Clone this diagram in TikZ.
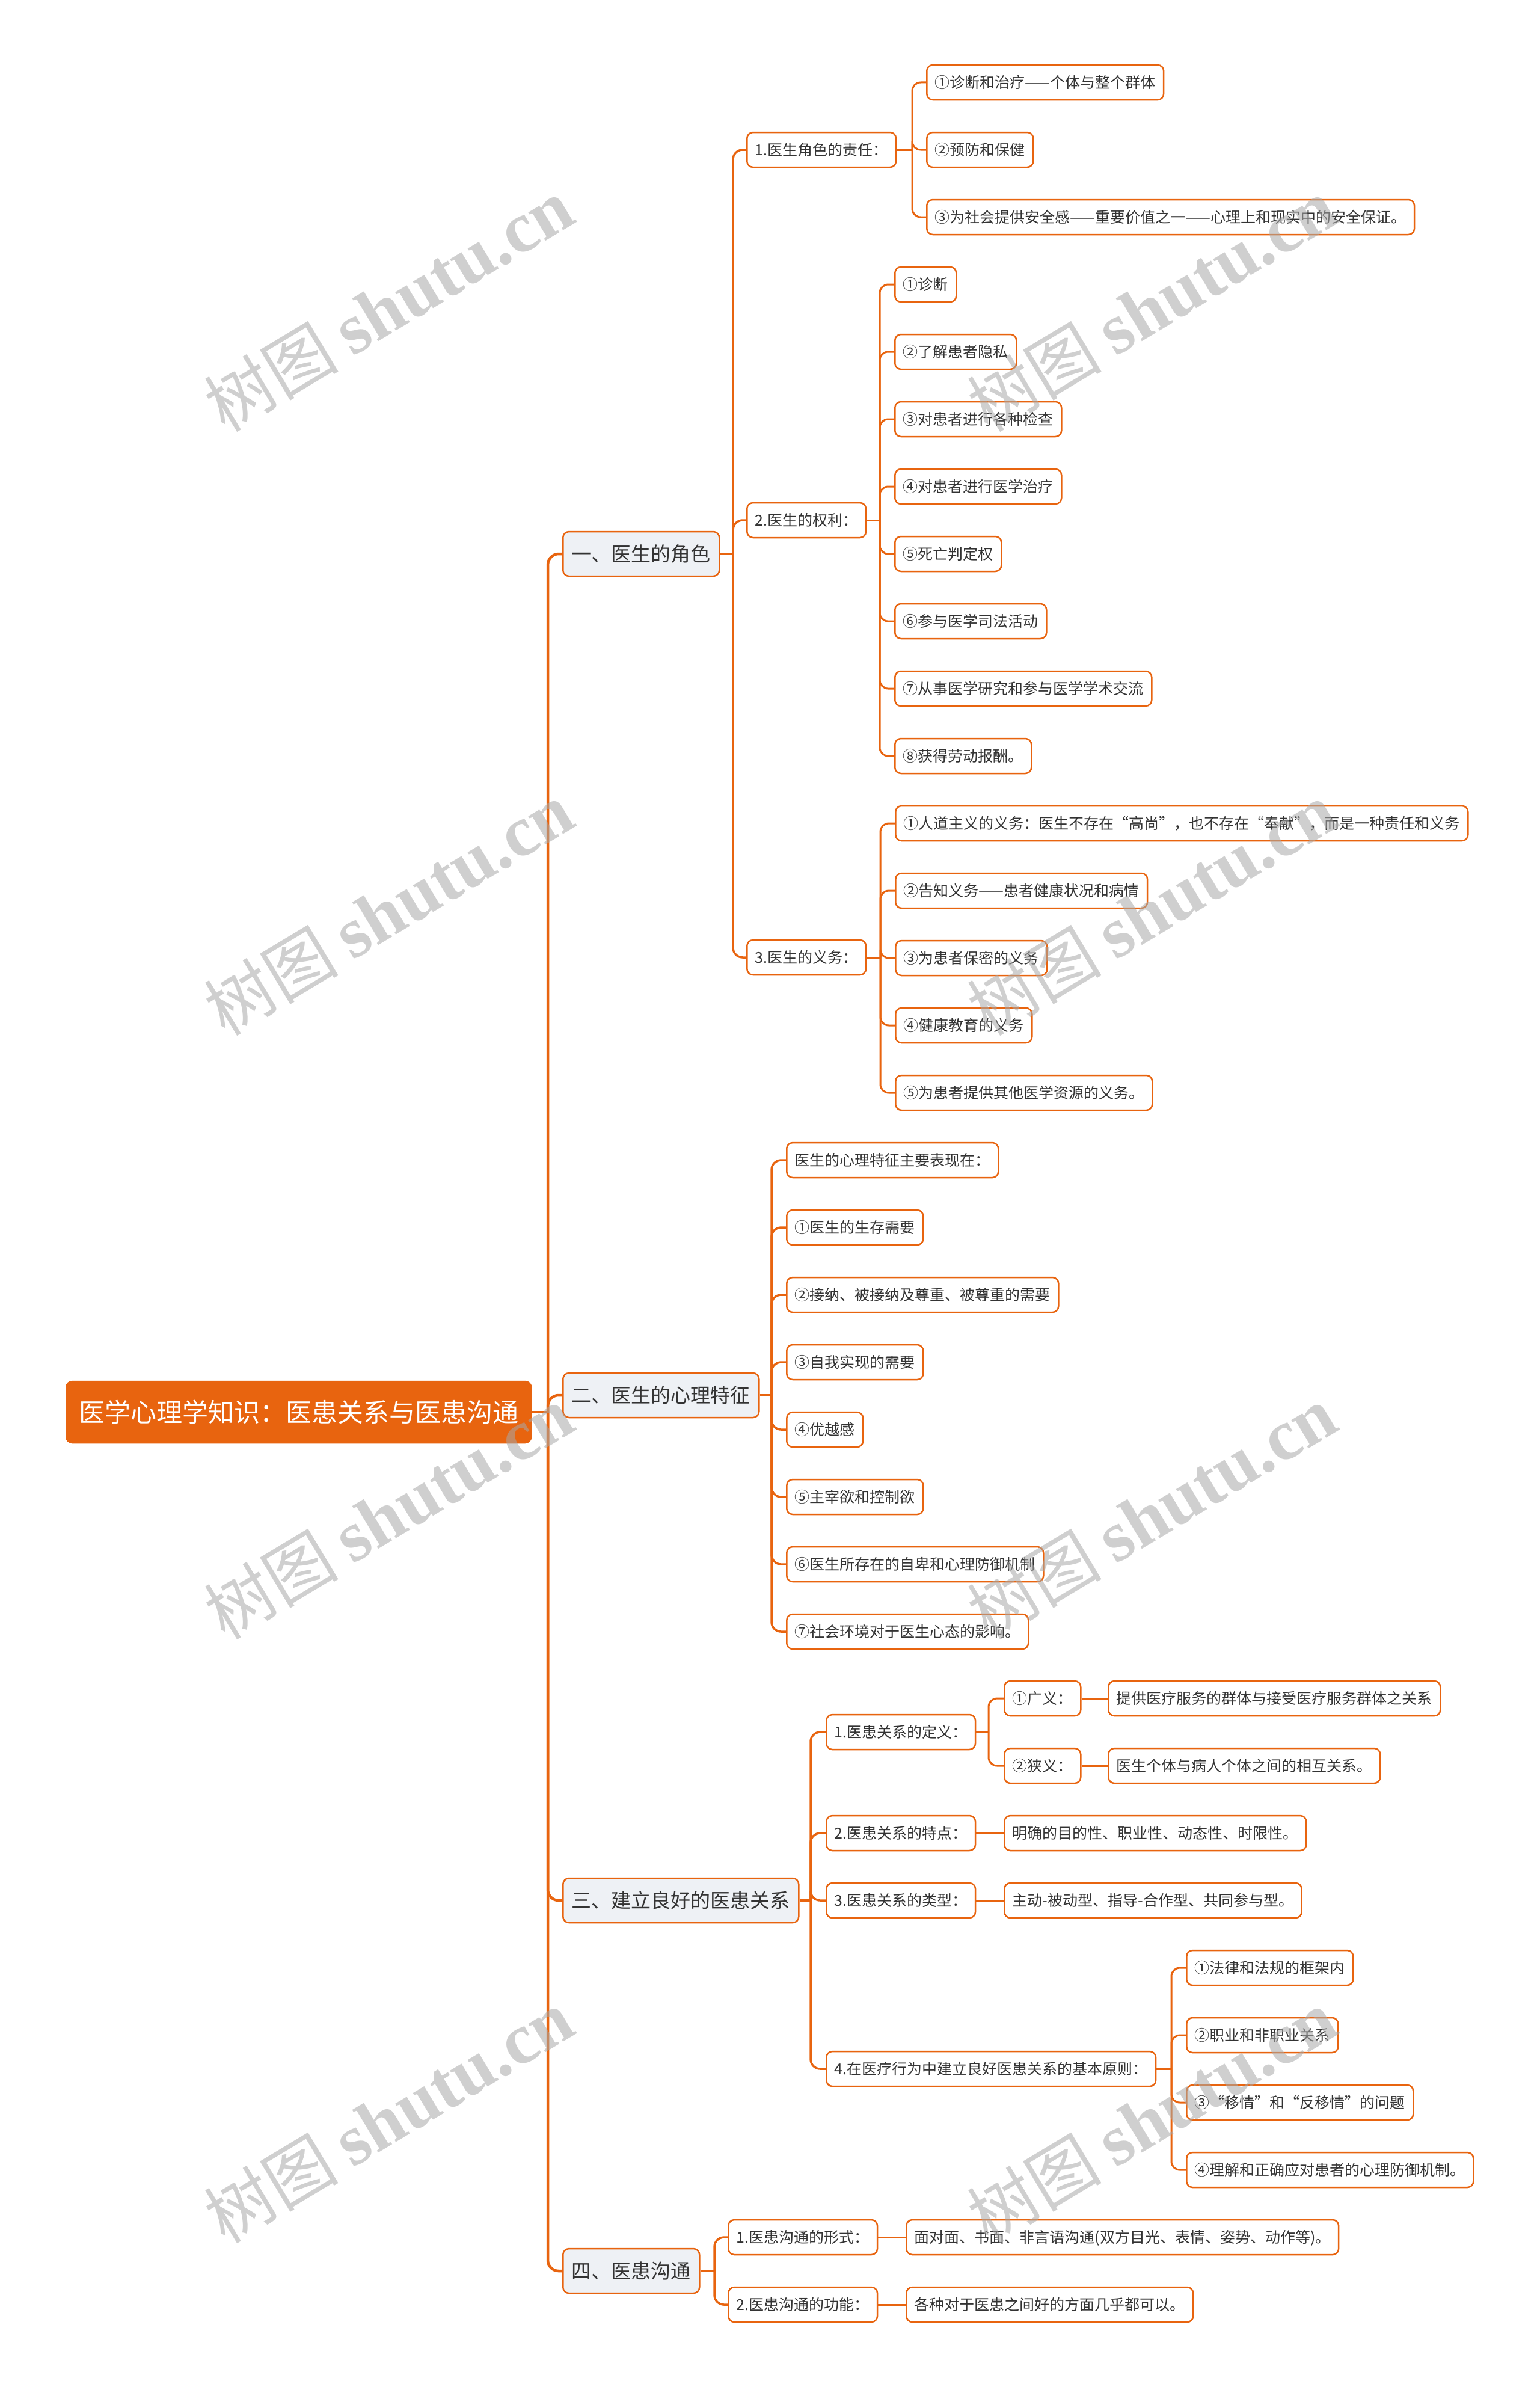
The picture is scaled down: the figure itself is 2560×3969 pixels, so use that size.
\documentclass[tikz,border=0pt]{standalone}
\usepackage{fontspec}
\newfontfamily\cjk{Noto Sans CJK SC}
\newfontfamily\wmserif{Liberation Serif}
\definecolor{mmorange}{HTML}{E8640F}
\definecolor{mmfill}{HTML}{EEF1F5}
\definecolor{mmtext}{HTML}{333333}
\definecolor{wmgray}{HTML}{A8A8A8}
\begin{document}
\begin{tikzpicture}[x=1pt,y=-1pt,
  base/.style={draw=mmorange, rounded corners=10, anchor=west, text=mmtext, line width=2.5},
  rootbox/.style={base, fill=mmorange, text=white, font=\cjk\fontsize{43}{50}\selectfont,
    minimum height=102, inner xsep=21, inner ysep=0, text height=38, text depth=5},
  lone/.style={base, fill=mmfill, font=\cjk\fontsize{33}{40}\selectfont,
    minimum height=74, inner xsep=14.5, inner ysep=0, text height=29, text depth=4},
  ltwo/.style={base, fill=white, font=\cjk\fontsize{25}{30}\selectfont,
    minimum height=58, inner xsep=13.5, inner ysep=0, text height=22, text depth=3},
  connroot/.style={draw=mmorange, line width=4.5, rounded corners=18},
  connone/.style={draw=mmorange, line width=3.5, rounded corners=16},
  conntwo/.style={draw=mmorange, line width=3, rounded corners=14},
  wm/.style={text=wmgray, text opacity=0.55, rotate=31, inner sep=0}
]
\useasboundingbox (0,0) rectangle (2560,3969);

% root and level 1
\node[rootbox] (root) at (109,2348) {医学心理学知识：医患关系与医患沟通};
\node[lone] (a) at (935,921) {一、医生的角色};
\node[lone] (b) at (935,2320) {二、医生的心理特征};
\node[lone] (c) at (935,3160) {三、建立良好的医患关系};
\node[lone] (d) at (935,3776) {四、医患沟通};

% branch a
\node[ltwo] (a1) at (1241,249) {1.医生角色的责任：};
\node[ltwo] (a2) at (1241,865) {2.医生的权利：};
\node[ltwo] (a3) at (1241,1592) {3.医生的义务：};

\node[ltwo] (a1a) at (1540,137) {①诊断和治疗——个体与整个群体};
\node[ltwo] (a1b) at (1540,249) {②预防和保健};
\node[ltwo] (a1c) at (1540,361) {③为社会提供安全感——重要价值之一——心理上和现实中的安全保证。};

\node[ltwo] (a2a) at (1487,473) {①诊断};
\node[ltwo] (a2b) at (1487,585) {②了解患者隐私};
\node[ltwo] (a2c) at (1487,697) {③对患者进行各种检查};
\node[ltwo] (a2d) at (1487,809) {④对患者进行医学治疗};
\node[ltwo] (a2e) at (1487,921) {⑤死亡判定权};
\node[ltwo] (a2f) at (1487,1033) {⑥参与医学司法活动};
\node[ltwo] (a2g) at (1487,1145) {⑦从事医学研究和参与医学学术交流};
\node[ltwo] (a2h) at (1487,1257) {⑧获得劳动报酬。};

\node[ltwo] (a3a) at (1488,1369) {①人道主义的义务：医生不存在“高尚”，也不存在“奉献”，而是一种责任和义务};
\node[ltwo] (a3b) at (1488,1481) {②告知义务——患者健康状况和病情};
\node[ltwo] (a3c) at (1488,1593) {③为患者保密的义务};
\node[ltwo] (a3d) at (1488,1705) {④健康教育的义务};
\node[ltwo] (a3e) at (1488,1817) {⑤为患者提供其他医学资源的义务。};

% branch b
\node[ltwo] (b0) at (1307,1929) {医生的心理特征主要表现在：};
\node[ltwo] (b1) at (1307,2041) {①医生的生存需要};
\node[ltwo] (b2) at (1307,2153) {②接纳、被接纳及尊重、被尊重的需要};
\node[ltwo] (b3) at (1307,2265) {③自我实现的需要};
\node[ltwo] (b4) at (1307,2377) {④优越感};
\node[ltwo] (b5) at (1307,2489) {⑤主宰欲和控制欲};
\node[ltwo] (b6) at (1307,2601) {⑥医生所存在的自卑和心理防御机制};
\node[ltwo] (b7) at (1307,2713) {⑦社会环境对于医生心态的影响。};

% branch c
\node[ltwo] (c1) at (1373,2880) {1.医患关系的定义：};
\node[ltwo] (c2) at (1373,3048) {2.医患关系的特点：};
\node[ltwo] (c3) at (1373,3160) {3.医患关系的类型：};
\node[ltwo] (c4) at (1373,3440) {4.在医疗行为中建立良好医患关系的基本原则：};

\node[ltwo] (c1a) at (1669,2824) {①广义：};
\node[ltwo] (c1b) at (1669,2936) {②狭义：};
\node[ltwo] (c1ax) at (1842,2824) {提供医疗服务的群体与接受医疗服务群体之关系};
\node[ltwo] (c1bx) at (1842,2936) {医生个体与病人个体之间的相互关系。};
\node[ltwo] (c2a) at (1669,3048) {明确的目的性、职业性、动态性、时限性。};
\node[ltwo] (c3a) at (1669,3160) {主动-被动型、指导-合作型、共同参与型。};

\node[ltwo] (c4a) at (1972,3272) {①法律和法规的框架内};
\node[ltwo] (c4b) at (1972,3384) {②职业和非职业关系};
\node[ltwo] (c4c) at (1972,3496) {③“移情”和“反移情”的问题};
\node[ltwo] (c4d) at (1972,3608) {④理解和正确应对患者的心理防御机制。};

% branch d
\node[ltwo] (d1) at (1210,3720) {1.医患沟通的形式：};
\node[ltwo] (d2) at (1210,3832) {2.医患沟通的功能：};
\node[ltwo] (d1a) at (1506,3720) {面对面、书面、非言语沟通(双方目光、表情、姿势、动作等)。};
\node[ltwo] (d2a) at (1506,3832) {各种对于医患之间好的方面几乎都可以。};

% trunk coordinates
\coordinate (troot) at (911,2348);
\coordinate (ta) at (1219,921);
\coordinate (ta1) at (1517,249);
\coordinate (ta2) at (1463,865);
\coordinate (ta3) at (1464,1592);
\coordinate (tb) at (1283,2320);
\coordinate (tc) at (1348,3160);
\coordinate (tc1) at (1644,2880);
\coordinate (tc4) at (1948,3440);
\coordinate (td) at (1188,3776);

\draw[connroot] (root.east) -- (troot);
\foreach \n in {a,b,c,d} \draw[connroot] (troot) |- (\n.west);

\draw[connone] (a.east) -- (ta);
\foreach \n in {a1,a2,a3} \draw[connone] (ta) |- (\n.west);
\draw[connone] (b.east) -- (tb);
\foreach \n in {b0,b1,b2,b3,b4,b5,b6,b7} \draw[connone] (tb) |- (\n.west);
\draw[connone] (c.east) -- (tc);
\foreach \n in {c1,c2,c3,c4} \draw[connone] (tc) |- (\n.west);
\draw[connone] (d.east) -- (td);
\foreach \n in {d1,d2} \draw[connone] (td) |- (\n.west);

\draw[conntwo] (a1.east) -- (ta1);
\foreach \n in {a1a,a1b,a1c} \draw[conntwo] (ta1) |- (\n.west);
\draw[conntwo] (a2.east) -- (ta2);
\foreach \n in {a2a,a2b,a2c,a2d,a2e,a2f,a2g,a2h} \draw[conntwo] (ta2) |- (\n.west);
\draw[conntwo] (a3.east) -- (ta3);
\foreach \n in {a3a,a3b,a3c,a3d,a3e} \draw[conntwo] (ta3) |- (\n.west);
\draw[conntwo] (c1.east) -- (tc1);
\foreach \n in {c1a,c1b} \draw[conntwo] (tc1) |- (\n.west);
\draw[conntwo] (c4.east) -- (tc4);
\foreach \n in {c4a,c4b,c4c,c4d} \draw[conntwo] (tc4) |- (\n.west);
\draw[conntwo] (c1a.east) -- (c1ax.west);
\draw[conntwo] (c1b.east) -- (c1bx.west);
\draw[conntwo] (c2.east) -- (c2a.west);
\draw[conntwo] (c3.east) -- (c3a.west);
\draw[conntwo] (d1.east) -- (d1a.west);
\draw[conntwo] (d2.east) -- (d2a.west);

% watermarks
\foreach \wx/\wi in {646/l,1915/r}
  \foreach \wy/\wj in {508/1,1512/2,2516/3,3520/4}
    \node[wm] (wm\wi\wj) at (\wx,\wy) {{\cjk\fontsize{112}{120}\selectfont 树图}\hspace{24pt}{\wmserif\bfseries\fontsize{120}{130}\selectfont shutu.cn}};
\end{tikzpicture}
\end{document}
